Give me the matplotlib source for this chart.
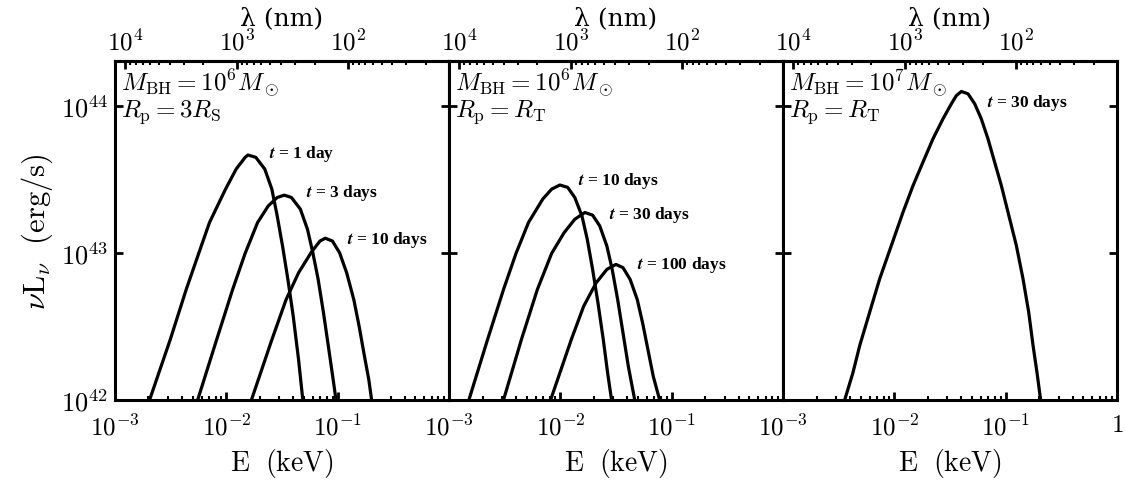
import numpy as np
import matplotlib
matplotlib.use("Agg")
import matplotlib.pyplot as plt
from matplotlib.ticker import FixedLocator, NullLocator, LogLocator, NullFormatter

plt.rcParams['mathtext.fontset'] = 'cm'
plt.rcParams['font.family'] = ['cmr10', 'DejaVu Serif']
plt.rcParams['axes.formatter.use_mathtext'] = True

# log10 E (keV), log10 nuL_nu (erg/s)
# panel 1: M_BH = 1e6, Rp = 3 Rs
p1_t1_logE = [-2.689, -2.504, -2.360, -2.248, -2.151, -2.007, -1.911, -1.831, -1.806, -1.735, -1.655,
              -1.591, -1.543, -1.495, -1.447, -1.399, -1.351, -1.313]
p1_t1_logL = [42.001, 42.410, 42.752, 42.997, 43.207, 43.434, 43.571, 43.650, 43.666, 43.650, 43.571,
              43.434, 43.252, 43.047, 42.820, 42.570, 42.274, 42.001]
p1_t3_logE = [-2.257, -2.087, -1.943, -1.831, -1.719, -1.623, -1.543, -1.479, -1.415, -1.335, -1.271,
              -1.223, -1.175, -1.127, -1.079, -1.040, -1.015]
p1_t3_logL = [42.001, 42.410, 42.752, 42.997, 43.207, 43.320, 43.377, 43.393, 43.377, 43.298, 43.161,
              43.002, 42.820, 42.592, 42.342, 42.137, 42.001]
p1_t10_logE = [-1.774, -1.591, -1.463, -1.351, -1.239, -1.159, -1.111, -1.047, -0.983, -0.919, -0.855,
               -0.807, -0.759, -0.720, -0.695]
p1_t10_logL = [42.001, 42.410, 42.683, 42.865, 43.002, 43.081, 43.100, 43.081, 43.002, 42.865, 42.683,
               42.501, 42.297, 42.137, 42.001]

# panel 2: M_BH = 1e6, Rp = RT
p2_t10_logE = [-2.821, -2.654, -2.510, -2.398, -2.286, -2.158, -2.078, -2.004, -1.934, -1.870, -1.806,
               -1.758, -1.710, -1.662, -1.614, -1.575, -1.540]
p2_t10_logL = [42.001, 42.410, 42.752, 42.997, 43.207, 43.366, 43.434, 43.462, 43.446, 43.377, 43.252,
               43.093, 42.888, 42.661, 42.410, 42.183, 42.001]
p2_t30_logE = [-2.510, -2.350, -2.206, -2.078, -1.966, -1.870, -1.780, -1.710, -1.646, -1.582, -1.534,
               -1.485, -1.437, -1.389, -1.332]
p2_t30_logL = [42.001, 42.410, 42.752, 42.997, 43.138, 43.229, 43.275, 43.257, 43.184, 43.047, 42.888,
               42.683, 42.456, 42.228, 42.001]
p2_t100_logE = [-2.087, -1.902, -1.790, -1.678, -1.582, -1.501, -1.437, -1.373, -1.309, -1.261, -1.213,
                -1.165, -1.108]
p2_t100_logL = [42.001, 42.410, 42.638, 42.797, 42.888, 42.922, 42.900, 42.820, 42.683, 42.524, 42.342,
                42.160, 42.001]

# panel 3: M_BH = 1e7, Rp = RT
p3_t30_logE = [-2.446, -2.371, -2.311, -2.222, -2.132, -2.027, -1.922, -1.832, -1.743, -1.653, -1.563,
               -1.488, -1.443, -1.398, -1.338, -1.278, -1.219, -1.159, -1.099, -1.039, -0.979, -0.904,
               -0.844, -0.793, -0.754, -0.719, -0.686]
p3_t30_logL = [42.000, 42.188, 42.370, 42.596, 42.823, 43.050, 43.277, 43.458, 43.617, 43.776, 43.912,
               44.014, 44.070, 44.098, 44.082, 44.014, 43.912, 43.776, 43.617, 43.458, 43.277, 43.050,
               42.823, 42.596, 42.370, 42.188, 42.000]

curves = [
    [(p1_t1_logE, p1_t1_logL), (p1_t3_logE, p1_t3_logL), (p1_t10_logE, p1_t10_logL)],
    [(p2_t10_logE, p2_t10_logL), (p2_t30_logE, p2_t30_logL), (p2_t100_logE, p2_t100_logL)],
    [(p3_t30_logE, p3_t30_logL)],
]
time_labels = [
    ["1 day", "3 days", "10 days"],
    ["10 days", "30 days", "100 days"],
    ["30 days"],
]
label_pos = [
    [(0.461, 0.729), (0.571, 0.614), (0.695, 0.475)],
    [(0.386, 0.650), (0.479, 0.549), (0.563, 0.401)],
    [(0.611, 0.880)],
]
mass_text = [r"$M_{\rm BH}=10^6M_\odot$", r"$M_{\rm BH}=10^6M_\odot$", r"$M_{\rm BH}=10^7M_\odot$"]
rp_text = [r"$R_{\rm p}=3R_{\rm S}$", r"$R_{\rm p}=R_{\rm T}$", r"$R_{\rm p}=R_{\rm T}$"]

HC = 12.398  # keV * Angstrom, used for the top wavelength axis

fig, axes = plt.subplots(1, 3, figsize=(11.25, 4.85), dpi=100, sharey=True)
fig.subplots_adjust(left=0.1022, right=0.9929, bottom=0.1732, top=0.8722, wspace=0)

for i, ax in enumerate(axes):
    for logE, logL in curves[i]:
        ax.plot(10**np.array(logE), 10**np.array(logL), color='black', lw=2.3,
                solid_joinstyle='round')
    for lab, (fx, fy) in zip(time_labels[i], label_pos[i]):
        ax.text(fx, fy, r"$\mathbfit{t}$" + " = " + lab, transform=ax.transAxes,
                family='Liberation Serif', weight='bold', fontsize=12.5, va='center', ha='left')
    ax.text(0.018, 0.935, mass_text[i], transform=ax.transAxes, fontsize=18, va='center', ha='left')
    ax.text(0.018, 0.853, rp_text[i], transform=ax.transAxes, fontsize=18, va='center', ha='left')

    ax.set_xscale('log')
    ax.set_yscale('log')
    ax.set_xlim(1e-3, 1)
    ax.set_ylim(1e42, 2.02e44)
    for s in ax.spines.values():
        s.set_linewidth(2.2)

    xt = [1e-3, 1e-2, 1e-1] if i < 2 else [1e-3, 1e-2, 1e-1, 1]
    xl = [r"$10^{-3}$", r"$10^{-2}$", r"$10^{-1}$"] + ([r"$1$"] if i == 2 else [])
    ax.xaxis.set_major_locator(FixedLocator(xt))
    ax.set_xticklabels(xl)
    ax.xaxis.set_minor_locator(LogLocator(base=10, subs=np.arange(2, 10)))
    ax.xaxis.set_minor_formatter(NullFormatter())
    ax.tick_params(axis='x', which='major', direction='in', length=6, width=2, labelsize=18, pad=10)
    ax.tick_params(axis='x', which='minor', direction='in', length=3, width=1.5)
    ax.tick_params(axis='y', which='major', direction='in', length=6, width=2,
                   left=True, right=True, labelsize=19, pad=5)
    ax.yaxis.set_minor_locator(NullLocator())
    ax.set_xlabel(r"$\mathrm{E\ \ (keV)}$", fontsize=20, labelpad=5)

    sec = ax.secondary_xaxis('top', functions=(lambda E: HC / E, lambda lam: HC / lam))
    sec.xaxis.set_major_locator(FixedLocator([1e4, 1e3, 1e2]))
    sec.set_xticklabels([r"$10^{4}$", r"$10^{3}$", r"$10^{2}$"])
    sec.xaxis.set_minor_locator(LogLocator(base=10, subs=np.arange(2, 10)))
    sec.xaxis.set_minor_formatter(NullFormatter())
    sec.tick_params(axis='x', which='major', direction='in', length=6, width=2, labelsize=18, pad=5)
    sec.tick_params(axis='x', which='minor', direction='in', length=3, width=1.5)
    sec.spines['top'].set_linewidth(2.2)
    sec.set_xlabel("λ (nm)", family=['DejaVu Serif'], fontsize=18, labelpad=3)

axes[0].set_yticks([1e42, 1e43, 1e44])
axes[0].set_yticklabels([r"$10^{42}$", r"$10^{43}$", r"$10^{44}$"])
axes[0].set_ylabel(r"$\nu\mathrm{L}_\nu\ \ \mathrm{(erg/s)}$", fontsize=22, labelpad=4)

fig.savefig("out.png", dpi=100)
